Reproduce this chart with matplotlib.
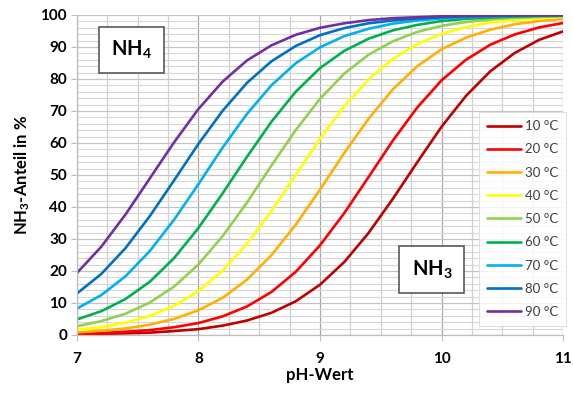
import matplotlib
matplotlib.use("Agg")
import matplotlib.pyplot as plt
from matplotlib.ticker import MultipleLocator

plt.rcParams['font.family'] = ['Lato', 'DejaVu Sans']
plt.rcParams['mathtext.default'] = 'regular'

ph = [7.0, 7.2, 7.4, 7.6, 7.8, 8.0, 8.2, 8.4, 8.6, 8.8, 9.0,
      9.2, 9.4, 9.6, 9.8, 10.0, 10.2, 10.4, 10.6, 10.8, 11.0]

nh3_10 = [0.2, 0.3, 0.5, 0.7, 1.2, 1.8, 2.9, 4.5, 6.9, 10.5, 15.7,
          22.8, 31.9, 42.6, 54.0, 65.1, 74.7, 82.4, 88.1, 92.2, 94.9]
nh3_20 = [0.4, 0.6, 1.0, 1.5, 2.4, 3.7, 5.8, 8.9, 13.4, 19.7, 28.0,
          38.1, 49.4, 60.8, 71.1, 79.6, 86.0, 90.7, 93.9, 96.1, 97.5]
nh3_30 = [0.8, 1.3, 2.0, 3.2, 5.0, 7.7, 11.6, 17.3, 24.9, 34.4, 45.4,
          56.9, 67.6, 76.8, 84.0, 89.3, 92.9, 95.4, 97.1, 98.1, 98.8]
nh3_40 = [1.6, 2.4, 3.8, 5.9, 9.1, 13.7, 20.1, 28.5, 38.7, 50.0, 61.3,
          71.5, 79.9, 86.3, 90.9, 94.1, 96.2, 97.6, 98.4, 99.0, 99.4]
nh3_50 = [2.7, 4.3, 6.6, 10.1, 15.1, 22.0, 30.9, 41.4, 52.9, 64.0, 73.8,
          81.7, 87.6, 91.8, 94.7, 96.6, 97.8, 98.6, 99.1, 99.4, 99.6]
nh3_60 = [4.8, 7.4, 11.2, 16.6, 24.0, 33.4, 44.3, 55.7, 66.6, 76.0, 83.4,
          88.8, 92.6, 95.2, 96.9, 98.1, 98.8, 99.2, 99.5, 99.7, 99.8]
nh3_70 = [8.2, 12.4, 18.3, 26.2, 36.0, 47.1, 58.6, 69.1, 78.0, 84.9, 89.9,
          93.4, 95.7, 97.3, 98.3, 98.9, 99.3, 99.6, 99.7, 99.8, 99.9]
nh3_80 = [12.9, 19.0, 27.1, 37.1, 48.3, 59.7, 70.1, 78.8, 85.5, 90.3, 93.7,
          95.9, 97.4, 98.3, 98.9, 99.3, 99.6, 99.7, 99.8, 99.9, 99.9]
nh3_90 = [19.3, 27.5, 37.6, 48.9, 60.2, 70.6, 79.2, 85.8, 90.5, 93.8, 96.0,
          97.4, 98.4, 99.0, 99.3, 99.6, 99.7, 99.8, 99.9, 99.9, 100.0]

labels = ['10 °C', '20 °C', '30 °C', '40 °C', '50 °C',
          '60 °C', '70 °C', '80 °C', '90 °C']
series = [nh3_10, nh3_20, nh3_30, nh3_40, nh3_50,
          nh3_60, nh3_70, nh3_80, nh3_90]
colors = ['#C00000', '#FF0000', '#FFB000', '#FFFF00', '#92D050',
          '#00B050', '#00B0F0', '#0070C0', '#7030A0']

fig = plt.figure(figsize=(5.73, 3.94), dpi=100)
ax = fig.add_axes([0.134, 0.150, 0.849, 0.812])

for vals, lab, col in zip(series, labels, colors):
    ax.plot(ph, vals, color=col, lw=1.9, label=lab, solid_capstyle='round',
            solid_joinstyle='round')

ax.set_xlim(7, 11)
ax.set_ylim(0, 100)
ax.xaxis.set_major_locator(MultipleLocator(1))
ax.xaxis.set_minor_locator(MultipleLocator(0.25))
ax.yaxis.set_major_locator(MultipleLocator(10))
ax.yaxis.set_minor_locator(MultipleLocator(2))

for s in ['top', 'right']:
    ax.spines[s].set_visible(False)
for s in ['left', 'bottom']:
    ax.spines[s].set_color('#BFBFBF')
    ax.spines[s].set_linewidth(0.9)

ax.tick_params(which='major', length=4, color='#BFBFBF', labelsize=11, pad=3)
ax.tick_params(which='minor', length=0)
ax.tick_params(axis='x', pad=8)
for t in ax.get_xticklabels() + ax.get_yticklabels():
    t.set_fontweight('bold')

# gridlines: darker at whole pH / every 10 %, lighter in between
ax.grid(which='major', axis='x', color='#A6A6A6', lw=0.9)
ax.grid(which='minor', axis='x', color='#CFCFCF', lw=0.9)
ax.grid(which='major', axis='y', color='#C4C4C4', lw=0.9)
ax.grid(which='minor', axis='y', color='#D6D6D6', lw=0.8)
ax.set_axisbelow(True)

ax.set_xlabel('pH-Wert', fontsize=12, fontweight='bold', labelpad=1)
ax.set_ylabel('NH$_3$-Anteil in %', fontsize=12, fontweight='bold', labelpad=6)

box = dict(boxstyle='square,pad=0.6', facecolor='white', edgecolor='#595959', lw=1.2)
ax.text(7.45, 89.0, 'NH$_4$', fontsize=14.5, fontweight='bold',
        ha='center', va='center', bbox=box)
ax.text(9.92, 20.4, 'NH$_3$', fontsize=14.5, fontweight='bold',
        ha='center', va='center', bbox=box)

leg = ax.legend(loc='lower right', bbox_to_anchor=(1.012, 0.02), fontsize=9.5,
                frameon=True, fancybox=False, edgecolor='#D9D9D9',
                handlelength=2.6, handletextpad=0.3, labelspacing=0.85,
                borderpad=0.6, borderaxespad=0.2)
leg.get_frame().set_linewidth(0.8)
for t in leg.get_texts():
    t.set_color('#404040')

fig.savefig('out.png', dpi=100)
